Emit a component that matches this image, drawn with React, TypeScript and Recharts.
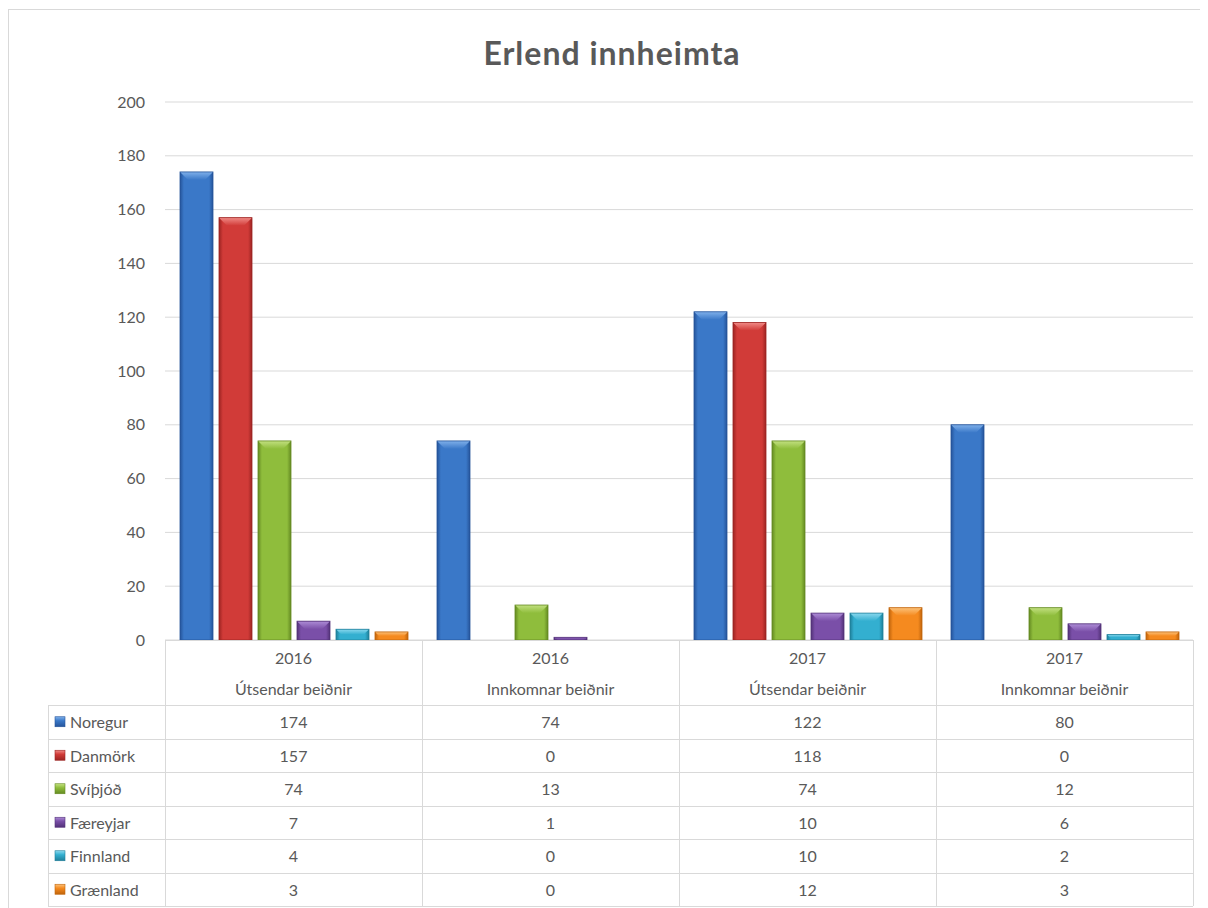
import React from 'react';
import { BarChart, Bar, XAxis, YAxis, CartesianGrid } from 'recharts';

const categoryYears = ['2016', '2016', '2017', '2017'];
const categoryTypes = ['Útsendar beiðnir', 'Innkomnar beiðnir', 'Útsendar beiðnir', 'Innkomnar beiðnir'];

const seriesNames = ['Noregur', 'Danmörk', 'Svíþjóð', 'Færeyjar', 'Finnland', 'Grænland'];
const noregur = [174, 74, 122, 80];
const danmork = [157, 0, 118, 0];
const svithjod = [74, 13, 74, 12];
const faereyjar = [7, 1, 10, 6];
const finnland = [4, 0, 10, 2];
const graenland = [3, 0, 12, 3];
const seriesValues = [noregur, danmork, svithjod, faereyjar, finnland, graenland];

const yTicks = [0, 20, 40, 60, 80, 100, 120, 140, 160, 180, 200];

const baseColors = ['#3a78c8', '#d13b38', '#8fbd3c', '#7a4fa8', '#33afd0', '#f58a1f'];
const darkColors = ['#25549a', '#9c2422', '#648a22', '#533278', '#1f7f9a', '#c0640c'];
const lightColors = ['#7fb0ea', '#f08a86', '#c2e080', '#ad8cd6', '#8ad8ee', '#fcc27a'];

const data = categoryYears.map((yr, ci) => {
  const row: Record<string, string | number> = { key: `${yr}|${categoryTypes[ci]}` };
  seriesNames.forEach((n, si) => {
    row[n] = seriesValues[si][ci];
  });
  return row;
});

const TEXT = '#595959';
const GRID = '#d9d9d9';
const FONT = 'Lato, "Open Sans", sans-serif';

const CHART_W = 1199;
const CHART_H = 640;
const PLOT_LEFT = 156;
const PLOT_RIGHT = 1184;
const PLOT_TOP = 92;
const PLOT_BOTTOM = 630;
const Y_AXIS_W = 60;
const BOX_H = 900;

const BevelBar = (props: any) => {
  const { x, y, width, height, idx } = props;
  if (!height || height <= 0) return null;
  const b = Math.min(8, height / 2, width / 3);
  return (
    <g>
      <rect x={x} y={y} width={width} height={height} fill={`url(#barGrad${idx})`} />
      <polygon
        points={`${x},${y} ${x + width},${y} ${x + width - b},${y + b} ${x + b},${y + b}`}
        fill={`url(#topGrad${idx})`}
      />
      <rect x={x} y={y} width={width} height={height} fill="none" stroke={darkColors[idx]} strokeWidth={0.8} />
    </g>
  );
};

const DataTable = () => {
  const colW = (PLOT_RIGHT - PLOT_LEFT) / categoryYears.length;
  const headerTop = PLOT_BOTTOM;
  const headerH = 65;
  const rowH = 33.5;
  const tableLeft = 39;
  const rowsTop = headerTop + headerH;
  const bottom = rowsTop + rowH * seriesNames.length;
  return (
    <svg
      width={CHART_W}
      height={BOX_H}
      style={{ position: 'absolute', left: 0, top: 0, pointerEvents: 'none' }}
    >
      <defs>
        {baseColors.map((c, i) => (
          <linearGradient key={i} id={`keyGrad${i}`} x1="0" y1="0" x2="0" y2="1">
            <stop offset="0" stopColor={lightColors[i]} />
            <stop offset="0.4" stopColor={c} />
            <stop offset="1" stopColor={darkColors[i]} />
          </linearGradient>
        ))}
      </defs>
      <line x1={PLOT_LEFT} y1={headerTop + 0.5} x2={PLOT_RIGHT} y2={headerTop + 0.5} stroke={GRID} />
      {Array.from({ length: categoryYears.length + 1 }).map((_, k) => (
        <line
          key={`v${k}`}
          x1={PLOT_LEFT + k * colW + 0.5}
          y1={headerTop}
          x2={PLOT_LEFT + k * colW + 0.5}
          y2={bottom}
          stroke={GRID}
        />
      ))}
      <line x1={tableLeft + 0.5} y1={rowsTop} x2={tableLeft + 0.5} y2={bottom} stroke={GRID} />
      {Array.from({ length: seriesNames.length + 1 }).map((_, r) => (
        <line
          key={`h${r}`}
          x1={tableLeft}
          y1={Math.round(rowsTop + r * rowH) + 0.5}
          x2={PLOT_RIGHT}
          y2={Math.round(rowsTop + r * rowH) + 0.5}
          stroke={GRID}
        />
      ))}
      {categoryYears.map((yr, ci) => (
        <g key={`hdr${ci}`} fontFamily={FONT} fontSize={16} fill={TEXT} textAnchor="middle">
          <text x={PLOT_LEFT + colW * (ci + 0.5)} y={headerTop + 17} dominantBaseline="central">
            {yr}
          </text>
          <text x={PLOT_LEFT + colW * (ci + 0.5)} y={headerTop + 48} dominantBaseline="central">
            {categoryTypes[ci]}
          </text>
        </g>
      ))}
      {seriesNames.map((name, si) => {
        const cy = rowsTop + rowH * (si + 0.5);
        return (
          <g key={`row${si}`} fontFamily={FONT} fontSize={16} fill={TEXT}>
            <rect x={46} y={cy - 5} width={10} height={10} fill={`url(#keyGrad${si})`} stroke={darkColors[si]} strokeWidth={0.6} />
            <text x={61} y={cy} dominantBaseline="central">
              {name}
            </text>
            {seriesValues[si].map((v, ci) => (
              <text
                key={ci}
                x={PLOT_LEFT + colW * (ci + 0.5)}
                y={cy}
                textAnchor="middle"
                dominantBaseline="central"
              >
                {v}
              </text>
            ))}
          </g>
        );
      })}
    </svg>
  );
};

export default function App() {
  return (
    <div
      style={{
        position: 'relative',
        width: 1199,
        height: BOX_H,
        marginTop: 1,
        borderTop: `1px solid ${GRID}`,
        borderLeft: `1px solid ${GRID}`,
        fontFamily: FONT,
        background: '#fff',
      }}
    >
      <div
        style={{
          position: 'absolute',
          left: 0,
          top: 22,
          width: 1206,
          height: 42,
          lineHeight: '42px',
          textAlign: 'center',
          fontSize: 32,
          letterSpacing: 1,
          fontWeight: 700,
          color: TEXT,
          fontFamily: FONT,
        }}
      >
        Erlend innheimta
      </div>
      <div style={{ position: 'absolute', left: 0, top: 0 }}>
        <BarChart
          width={CHART_W}
          height={CHART_H}
          data={data}
          margin={{
            top: PLOT_TOP,
            right: CHART_W - PLOT_RIGHT,
            bottom: CHART_H - PLOT_BOTTOM,
            left: PLOT_LEFT - Y_AXIS_W,
          }}
          barSize={33}
          barGap={6}
        >
          <defs>
            {baseColors.map((c, i) => (
              <linearGradient key={`b${i}`} id={`barGrad${i}`} x1="0" y1="0" x2="1" y2="0">
                <stop offset="0" stopColor={darkColors[i]} />
                <stop offset="0.12" stopColor={c} />
                <stop offset="0.5" stopColor={c} />
                <stop offset="0.88" stopColor={c} />
                <stop offset="1" stopColor={darkColors[i]} />
              </linearGradient>
            ))}
            {baseColors.map((c, i) => (
              <linearGradient key={`t${i}`} id={`topGrad${i}`} x1="0" y1="0" x2="0" y2="1">
                <stop offset="0" stopColor={lightColors[i]} />
                <stop offset="1" stopColor={c} />
              </linearGradient>
            ))}
          </defs>
          <CartesianGrid vertical={false} stroke={GRID} strokeWidth={1} />
          <XAxis dataKey="key" hide />
          <YAxis
            width={Y_AXIS_W}
            domain={[0, 200]}
            ticks={yTicks}
            interval={0}
            axisLine={false}
            tickLine={false}
            tickSize={0}
            tickMargin={20}
            tick={{ fill: TEXT, fontSize: 16, fontFamily: FONT }}
          />
          {seriesNames.map((n, i) => (
            <Bar
              key={n}
              dataKey={n}
              fill={baseColors[i]}
              isAnimationActive={false}
              shape={(p: any) => <BevelBar {...p} idx={i} />}
            />
          ))}
        </BarChart>
      </div>
      <DataTable />
    </div>
  );
}
